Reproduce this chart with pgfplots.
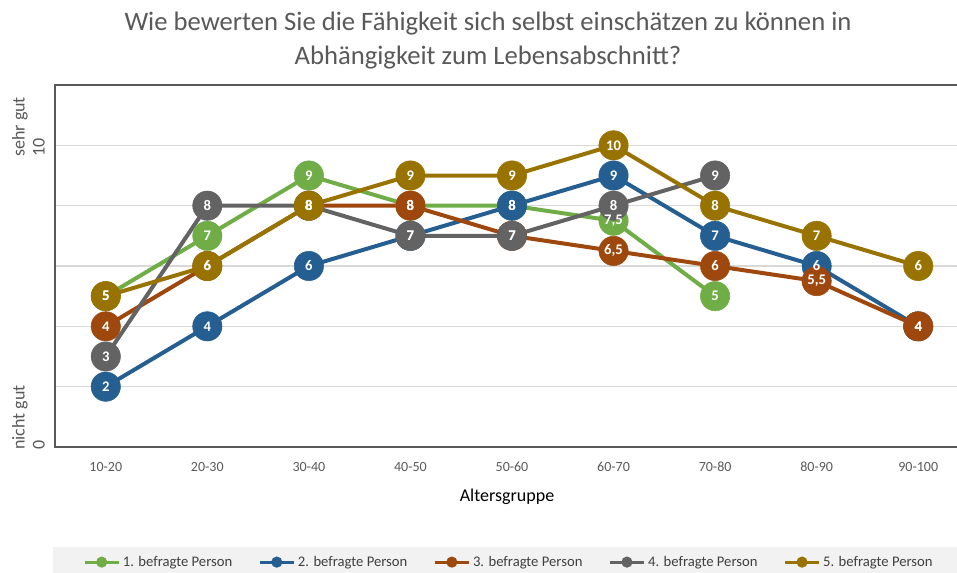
\documentclass[border=0pt]{standalone}
\usepackage{fontspec}
\setmainfont{Carlito}
\usepackage{pgfplots}
\usepackage{pgfplotstable}
\pgfplotsset{compat=1.18}

\definecolor{cA}{HTML}{70AD47}
\definecolor{cB}{HTML}{255E91}
\definecolor{cC}{HTML}{9E480E}
\definecolor{cD}{HTML}{636363}
\definecolor{cE}{HTML}{997300}
\definecolor{txt}{HTML}{595959}
\definecolor{gridc}{HTML}{D9D9D9}
\definecolor{legbg}{HTML}{F2F2F2}

% x: 0 = 10-20 ... 8 = 90-100
\pgfplotstableread{
x y l
0 5 5
1 7 7
2 9 9
3 8 8
4 8 8
5 7.5 7,5
6 5 5
}\tabA
\pgfplotstableread{
x y l
0 2 2
1 4 4
2 6 6
3 7 7
4 8 8
5 9 9
6 7 7
7 6 6
8 4 4
}\tabB
\pgfplotstableread{
x y l
0 4 4
1 6 6
2 8 8
3 8 8
4 7 7
5 6.5 6,5
6 6 6
7 5.5 5,5
8 4 4
}\tabC
\pgfplotstableread{
x y l
0 3 3
1 8 8
2 8 8
3 7 7
4 7 7
5 8 8
6 9 9
}\tabD
\pgfplotstableread{
x y l
0 5 5
1 6 6
2 8 8
3 9 9
4 9 9
5 10 10
6 8 8
7 7 7
8 6 6
}\tabE

\pgfplotsset{
  linepass/.style={forget plot, line width=3pt, line join=round, mark=none},
  markpass/.style={forget plot, only marks, mark=*, mark size=11pt, mark options={draw=#1, fill=#1}},
  labelpass/.style={forget plot, draw=none, mark=none, nodes near coords, point meta=explicit symbolic,
    every node near coord/.append style={anchor=center, inner sep=0pt, text=white,
      font=\bfseries\fontsize{11}{13}\selectfont}},
}

\begin{document}
\begin{tikzpicture}
\useasboundingbox (-41.25pt,-93.75pt) rectangle (676.5pt,335.25pt);
\clip (-41.25pt,-93.75pt) rectangle (676.5pt,335.25pt);
\begin{axis}[
    at={(0pt,0pt)}, anchor=south west,
    scale only axis, width=685.5pt, height=271.5pt,
    xmin=-0.5, xmax=8.5, ymin=0, ymax=12,
    xtick={0,...,8},
    xticklabels={10-20,20-30,30-40,40-50,50-60,60-70,70-80,80-90,90-100},
    xticklabel style={font=\fontsize{10.5}{12}\selectfont, text=txt, anchor=center, yshift=-15pt},
    ytick={0,2,...,12}, yticklabels={,,,,,,},
    ymajorgrids, grid style={draw=gridc, line width=1pt},
    tick style={draw=none},
    axis line style={draw=txt, line width=1.5pt},
    clip=false,
    legend columns=5,
    legend image code/.code={\draw[mark repeat=2,mark phase=2,#1] plot coordinates {(0pt,0pt)(12.75pt,0pt)(25.5pt,0pt)};},
    legend style={at={(0.497,-0.318)}, anchor=center, draw=none, fill=legbg,
      font=\fontsize{11}{13}\selectfont, text=black!75,
      inner xsep=23pt, inner ysep=5pt,
      /tikz/every even column/.append style={column sep=17.5pt}},
]
% lines
\addplot[linepass, cA] table[x=x, y=y] {\tabA};
\addplot[linepass, cB] table[x=x, y=y] {\tabB};
\addplot[linepass, cC] table[x=x, y=y] {\tabC};
\addplot[linepass, cD] table[x=x, y=y] {\tabD};
\addplot[linepass, cE] table[x=x, y=y] {\tabE};
% markers
\addplot[markpass=cA] table[x=x, y=y] {\tabA};
\addplot[markpass=cB] table[x=x, y=y] {\tabB};
\addplot[markpass=cC] table[x=x, y=y] {\tabC};
\addplot[markpass=cD] table[x=x, y=y] {\tabD};
\addplot[markpass=cE] table[x=x, y=y] {\tabE};
% value labels on top
\addplot[labelpass] table[x=x, y=y, meta=l] {\tabA};
\addplot[labelpass] table[x=x, y=y, meta=l] {\tabB};
\addplot[labelpass] table[x=x, y=y, meta=l] {\tabC};
\addplot[labelpass] table[x=x, y=y, meta=l] {\tabD};
\addplot[labelpass] table[x=x, y=y, meta=l] {\tabE};
% legend
\addlegendimage{cA, line width=2.25pt, mark=*, mark size=3pt}
\addlegendentry{1. befragte Person}
\addlegendimage{cB, line width=2.25pt, mark=*, mark size=3pt}
\addlegendentry{2. befragte Person}
\addlegendimage{cC, line width=2.25pt, mark=*, mark size=3pt}
\addlegendentry{3. befragte Person}
\addlegendimage{cD, line width=2.25pt, mark=*, mark size=3pt}
\addlegendentry{4. befragte Person}
\addlegendimage{cE, line width=2.25pt, mark=*, mark size=3pt}
\addlegendentry{5. befragte Person}
\end{axis}
\node[align=center, font=\fontsize{20}{25.5}\selectfont, text=txt] at (324.75pt,305pt)
  {Wie bewerten Sie die Fähigkeit sich selbst einschätzen zu können in\\Abhängigkeit zum Lebensabschnitt?};
\node[rotate=90, anchor=south west, align=left, inner sep=0pt, font=\fontsize{13.5}{15}\selectfont, text=txt]
  at (-7.5pt,-2.25pt) {nicht gut\\0};
\node[rotate=90, anchor=south west, align=left, inner sep=0pt, font=\fontsize{13.5}{15}\selectfont, text=txt]
  at (-7.5pt,217.5pt) {sehr gut\\10};
\node[font=\fontsize{13.5}{15}\selectfont, text=black] at (339pt,-37.5pt) {Altersgruppe};
\end{tikzpicture}
\end{document}
